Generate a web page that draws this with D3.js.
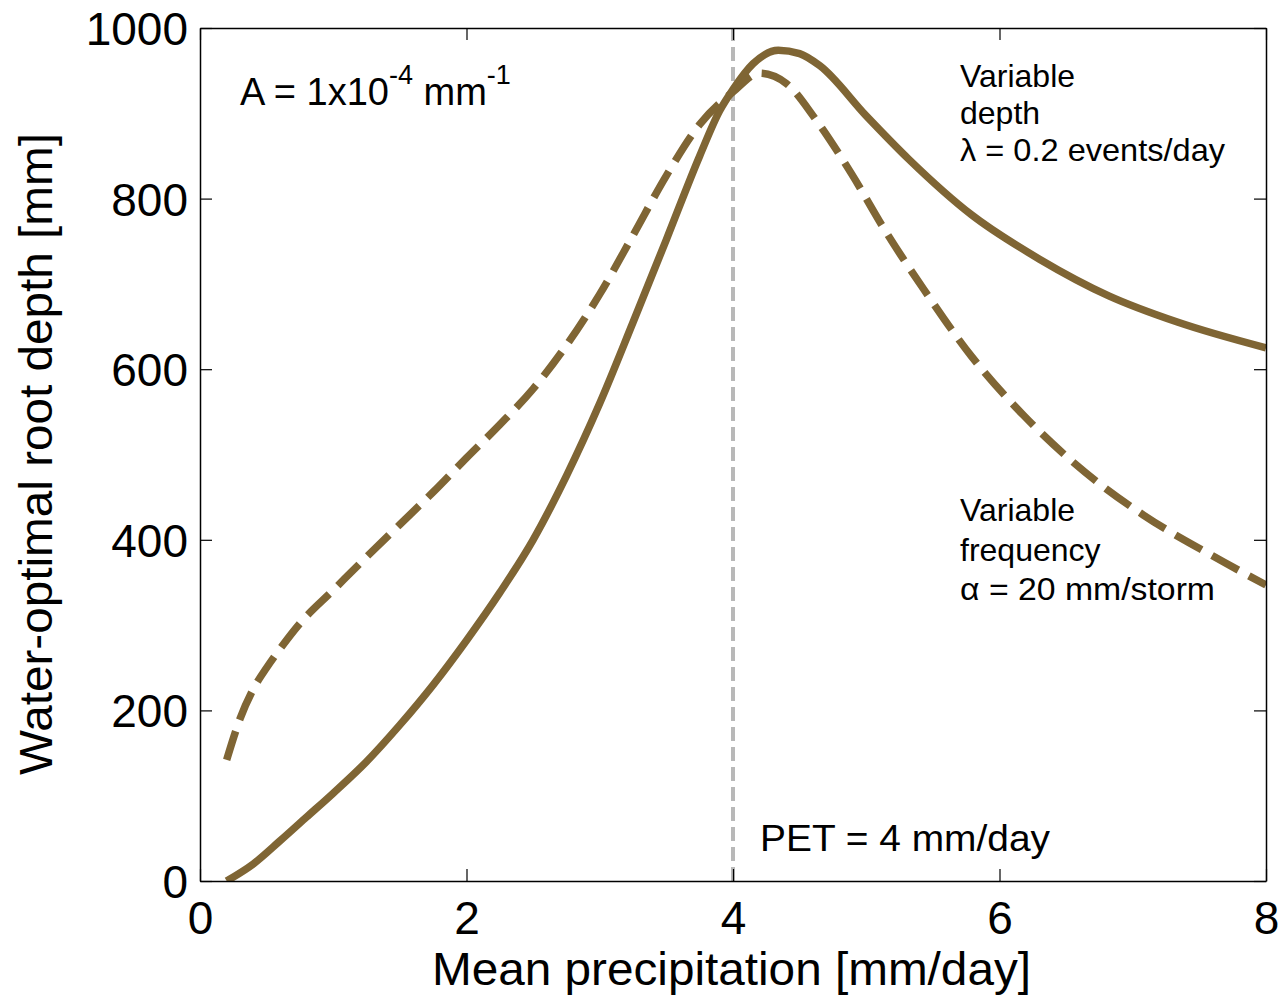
<!DOCTYPE html>
<html>
<head>
<meta charset="utf-8">
<script src="https://cdn.jsdelivr.net/npm/d3@7"></script>
<style>
  html, body { margin: 0; padding: 0; background: #fff; }
  svg { display: block; font-family: "Liberation Sans", Arial, sans-serif; }
</style>
</head>
<body>
<svg id="chart" width="1285" height="997"></svg>
<script>
// ---- data ----
const depthP = [0.2, 0.4, 0.6, 0.8, 1.0, 1.25, 1.5, 1.75, 2.0, 2.25, 2.5, 2.75, 3.0, 3.25, 3.5, 3.75, 3.9, 4.0, 4.15, 4.34, 4.5, 4.65, 5.0, 5.32, 5.79, 6.3, 6.82, 7.34, 8.0];
const depthD = [0, 20, 47, 75, 103, 140, 183, 230, 282, 338, 400, 475, 560, 655, 752, 850, 903, 928, 958, 974, 970, 956, 897, 846, 781, 729, 686, 655, 625];
const freqP = [0.2, 0.3, 0.4, 0.5, 0.6, 0.75, 1.0, 1.25, 1.5, 1.75, 2.0, 2.25, 2.5, 2.75, 3.0, 3.25, 3.5, 3.75, 4.0, 4.2, 4.4, 4.62, 4.89, 5.14, 5.43, 5.79, 6.18, 6.56, 7.08, 7.59, 8.0];
const freqD = [142, 190, 225, 250, 272, 302, 341, 380, 418, 456, 496, 535, 577, 628, 688, 757, 827, 887, 925, 947, 935, 893, 829, 763, 694, 615, 546, 490, 429, 382, 347];
const xTicks = [0, 2, 4, 6, 8];
const yTicks = [0, 200, 400, 600, 800, 1000];
const petValue = 4;

// ---- layout ----
const svg = d3.select("#chart");
const pL = 200, pR = 1266, pT = 28, pB = 881;
const x = d3.scaleLinear().domain([0, 8]).range([pL, pR]);
const y = d3.scaleLinear().domain([0, 1000]).range([pB, pT]);
const lineColor = "#7f6534";

svg.append("defs").append("clipPath").attr("id", "clip")
  .append("rect").attr("x", pL).attr("y", pT).attr("width", pR - pL).attr("height", pB - pT);

// PET line
svg.append("line")
  .attr("x1", x(petValue)).attr("x2", x(petValue))
  .attr("y1", y(0)).attr("y2", y(1000))
  .attr("stroke", "#b8b8b8").attr("stroke-width", 4)
  .attr("stroke-dasharray", "14,6");

const line = d3.line().x(d => x(d[0])).y(d => y(d[1])).curve(d3.curveMonotoneX);

const g = svg.append("g").attr("clip-path", "url(#clip)");
g.append("path")
  .datum(depthP.map((p, i) => [p, depthD[i]]))
  .attr("d", line).attr("fill", "none")
  .attr("stroke", lineColor).attr("stroke-width", 7.5).attr("stroke-linejoin", "round");
g.append("path")
  .datum(freqP.map((p, i) => [p, freqD[i]]))
  .attr("d", line).attr("fill", "none")
  .attr("stroke", lineColor).attr("stroke-width", 7.5)
  .attr("stroke-dasharray", "30,12");

// axes (box with inward ticks)
const tickLen = 12;
const fmt = d3.format("d");
const axB = svg.append("g").attr("transform", `translate(0,${pB})`)
  .call(d3.axisBottom(x).tickValues(xTicks).tickFormat(fmt).tickSizeInner(-tickLen).tickSizeOuter(0).tickPadding(20));
const axT = svg.append("g").attr("transform", `translate(0,${pT})`)
  .call(d3.axisTop(x).tickValues(xTicks).tickSizeInner(-tickLen).tickSizeOuter(0).tickFormat(""));
const axL = svg.append("g").attr("transform", `translate(${pL},0)`)
  .call(d3.axisLeft(y).tickValues(yTicks).tickFormat(fmt).tickSizeInner(-tickLen).tickSizeOuter(0).tickPadding(12));
const axR = svg.append("g").attr("transform", `translate(${pR},0)`)
  .call(d3.axisRight(y).tickValues(yTicks).tickSizeInner(-tickLen).tickSizeOuter(0).tickFormat(""));
[axB, axT, axL, axR].forEach(a => {
  a.select(".domain").attr("stroke", "#000").attr("stroke-width", 1.5);
  a.selectAll(".tick line").attr("stroke", "#000").attr("stroke-width", 1.2);
  a.selectAll("text").attr("fill", "#000").style("font-size", "46px")
    .style("font-family", '"Liberation Sans", Arial, sans-serif');
});
axB.selectAll(".tick text").attr("dy", "0.71em");
axL.selectAll(".tick text").attr("dy", "0.36em");

// axis labels
svg.append("text").attr("x", (432 + 1031) / 2).attr("y", 985)
  .attr("text-anchor", "middle").style("font-size", "46px")
  .attr("textLength", 599).attr("lengthAdjust", "spacingAndGlyphs")
  .text("Mean precipitation [mm/day]");
svg.append("text")
  .attr("transform", "translate(52,454) rotate(-90)")
  .attr("text-anchor", "middle").style("font-size", "47px")
  .attr("textLength", 642).attr("lengthAdjust", "spacingAndGlyphs")
  .text("Water-optimal root depth [mm]");

// annotations
const a = svg.append("text").attr("x", 240).attr("y", 105).style("font-size", "38px");
a.append("tspan").text("A = 1x10");
a.append("tspan").attr("dy", -21).style("font-size", "27px").text("-4");
a.append("tspan").attr("dy", 21).text(" mm");
a.append("tspan").attr("dy", -21).style("font-size", "27px").text("-1");

const block1 = ["Variable", "depth", "λ = 0.2 events/day"];
const len1 = [null, null, 265];
svg.append("g").selectAll("text").data(block1).join("text")
  .attr("x", 960).attr("y", (d, i) => 87 + i * 37)
  .style("font-size", "32px")
  .attr("textLength", (d, i) => len1[i]).attr("lengthAdjust", "spacingAndGlyphs")
  .text(d => d);
const block2 = ["Variable", "frequency", "α = 20 mm/storm"];
const len2 = [null, null, 255];
svg.append("g").selectAll("text").data(block2).join("text")
  .attr("x", 960).attr("y", (d, i) => 521 + i * 39.5)
  .style("font-size", "32px")
  .attr("textLength", (d, i) => len2[i]).attr("lengthAdjust", "spacingAndGlyphs")
  .text(d => d);

svg.append("text").attr("x", 760).attr("y", 851)
  .style("font-size", "37px").attr("textLength", 290).attr("lengthAdjust", "spacingAndGlyphs")
  .text("PET = 4 mm/day");
</script>
</body>
</html>
